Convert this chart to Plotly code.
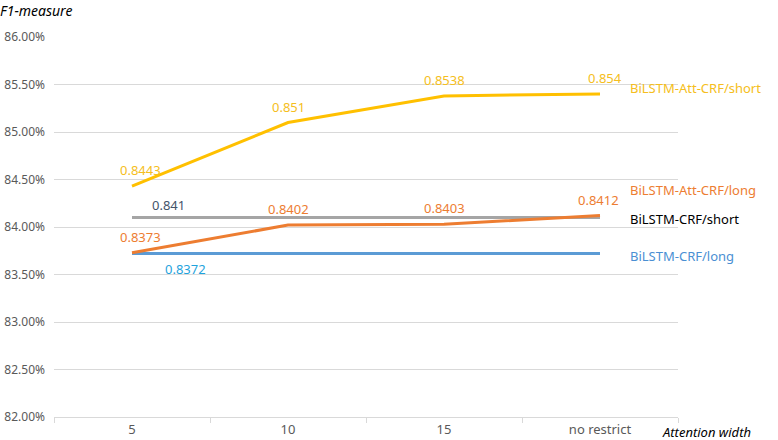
import plotly.graph_objects as go

# attention width categories
widths = ["5", "10", "15", "no restrict"]

# F1 measure (%) per model
att_short = [84.43, 85.10, 85.38, 85.40]
att_long = [83.73, 84.02, 84.03, 84.12]
crf_short = [84.10, 84.10, 84.10, 84.10]
crf_long = [83.72, 83.72, 83.72, 83.72]

att_short_labels = ["0.8443", "0.851", "0.8538", "0.854"]
att_long_labels = ["0.8373", "0.8402", "0.8403", "0.8412"]
crf_short_labels = ["0.841", "", "", ""]
crf_long_labels = ["0.8372", "", "", ""]

y_ticks = [82.0, 82.5, 83.0, 83.5, 84.0, 84.5, 85.0, 85.5, 86.0]

FONT = "Noto Sans, Open Sans, sans-serif"

series = [
    # name, values, labels, line colour, label colour, name colour, name y
    ("BiLSTM-CRF/short", crf_short, crf_short_labels, "#A5A5A5", "#44546A", "#000000", 84.08),
    ("BiLSTM-CRF/long", crf_long, crf_long_labels, "#5B9BD5", "#1FA3DD", "#4A8FD3", 83.69),
    ("BiLSTM-Att-CRF/long", att_long, att_long_labels, "#ED7D31", "#ED7D31", "#ED7D31", 84.39),
    ("BiLSTM-Att-CRF/short", att_short, att_short_labels, "#FFC000", "#F5BE20", "#F5BE20", 85.46),
]

fig = go.Figure()
annotations = []

for name, vals, labels, lc, tc, nc, name_y in series:
    fig.add_trace(
        go.Scatter(
            x=widths,
            y=vals,
            mode="lines",
            name=name,
            line=dict(color=lc, width=3),
            hoverinfo="skip",
        )
    )
    for i, (y, t) in enumerate(zip(vals, labels)):
        if not t:
            continue
        xshift, yshift = 8, 16
        if name == "BiLSTM-CRF/short":
            xshift, yshift = 36, 13
        elif name == "BiLSTM-CRF/long":
            xshift, yshift = 53, -15
        elif i == 3:
            xshift = -2 if name == "BiLSTM-Att-CRF/long" else 5
        elif i != 0:
            xshift = 0
        annotations.append(dict(
            x=i, y=y, text=t, showarrow=False, xshift=xshift, yshift=yshift,
            font=dict(family=FONT, size=13, color=tc),
        ))
    # series name just right of the plot area
    annotations.append(dict(
        x=1.0, xref="paper", y=name_y, yref="y", xanchor="left", text=name,
        showarrow=False, xshift=-50,
        font=dict(family=FONT, size=13, color=nc),
    ))

annotations.append(dict(
    x=0, xref="paper", y=1, yref="paper", xanchor="left", yanchor="bottom",
    xshift=-56, yshift=15, text="<i>F1-measure</i>", showarrow=False,
    font=dict(family=FONT, size=14, color="#000000"),
))
annotations.append(dict(
    x=1, xref="paper", y=0, yref="paper", xanchor="left", yanchor="top",
    xshift=-18, yshift=-4, text="<i>Attention width</i>", showarrow=False,
    font=dict(family=FONT, size=13, color="#000000"),
))

fig.update_layout(
    width=778,
    height=440,
    margin=dict(l=54, r=100, t=37, b=23, autoexpand=False),
    paper_bgcolor="white",
    plot_bgcolor="white",
    showlegend=False,
    annotations=annotations,
    font=dict(family=FONT, size=12, color="#595959"),
    xaxis=dict(
        type="category",
        range=[-0.5, 3.5],
        automargin=False,
        showgrid=False,
        showline=True,
        linecolor="#D9D9D9",
        linewidth=1,
        ticks="outside",
        tickson="boundaries",
        ticklen=5,
        tickcolor="#D9D9D9",
        tickfont=dict(family=FONT, size=13, color="#595959"),
    ),
    yaxis=dict(
        range=[82, 86],
        automargin=False,
        tickvals=y_ticks,
        ticktext=[f"{v:.2f}%" for v in y_ticks],
        showgrid=True,
        gridcolor="#D9D9D9",
        gridwidth=1,
        zeroline=False,
        showline=False,
        ticks="",
        ticklabelstandoff=8,
        tickfont=dict(family=FONT, size=12, color="#595959"),
    ),
)

# drop the default 8px body margin so the figure fills the window exactly
fig.write_html(
    "out.html",
    config={"displayModeBar": False},
    post_script="document.body.style.margin='0';",
)
